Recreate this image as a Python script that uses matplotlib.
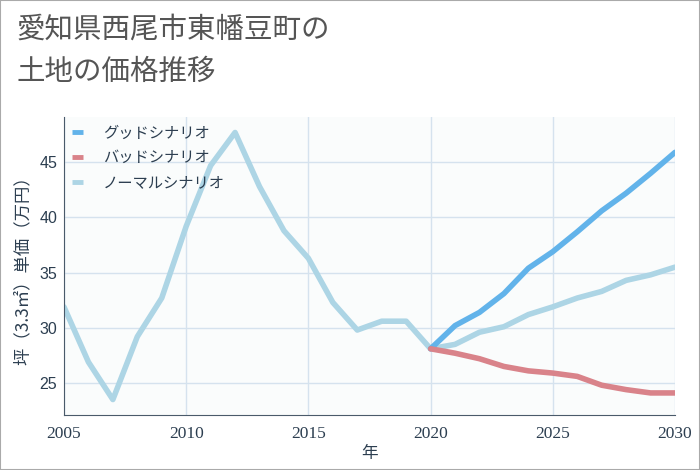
import matplotlib.pyplot as plt

plt.rcParams['font.family'] = ['Noto Sans CJK JP', 'DejaVu Sans']

years_past = list(range(2005, 2021))
normal_past = [31.9, 26.9, 23.5, 29.2, 32.7, 39.2, 44.7, 47.7, 42.8, 38.8,
               36.3, 32.3, 29.8, 30.6, 30.6, 28.1]

years_future = list(range(2020, 2031))
good = [28.1, 30.2, 31.4, 33.1, 35.4, 36.9, 38.7, 40.6, 42.2, 44.0, 45.9]
bad = [28.1, 27.7, 27.2, 26.5, 26.1, 25.9, 25.6, 24.8, 24.4, 24.1, 24.1]
normal_future = [28.1, 28.5, 29.6, 30.1, 31.2, 31.9, 32.7, 33.3, 34.3, 34.8, 35.5]

labels = ['グッドシナリオ', 'バッドシナリオ', 'ノーマルシナリオ']
colors = ['#62b3ea', '#d9838a', '#add5e5']

fig = plt.figure(figsize=(7, 4.7), dpi=100)
fig.patch.set_facecolor('white')
ax = fig.add_axes([0.0914, 0.117, 0.8729, 0.634])
ax.set_facecolor('#fafcfc')

ax.plot(years_future, good, color=colors[0], lw=4, label=labels[0], solid_capstyle='round', zorder=3)
ax.plot(years_future, bad, color=colors[1], lw=4, label=labels[1], solid_capstyle='round', zorder=3)
ax.plot(years_past + years_future[1:], normal_past + normal_future[1:],
        color=colors[2], lw=4, label=labels[2], solid_capstyle='round', zorder=2)

ax.set_xlim(2005, 2030)
ax.set_ylim(22.1, 49.1)
ax.set_xticks([2005, 2010, 2015, 2020, 2025, 2030])
ax.set_yticks([25, 30, 35, 40, 45])
ax.grid(True, color='#d5e2ee', lw=1)
ax.set_axisbelow(True)

for s in ['top', 'right']:
    ax.spines[s].set_visible(False)
for s in ['left', 'bottom']:
    ax.spines[s].set_color('#4a5a6a')
ax.tick_params(length=0, colors='#2c3e50')
ax.tick_params(axis='x', pad=8)
ax.tick_params(axis='y', pad=5)
for t in ax.get_xticklabels():
    t.set_family('Liberation Serif')
    t.set_fontsize(12.5)
for t in ax.get_yticklabels():
    t.set_family('Liberation Sans')
    t.set_fontsize(11.5)

ax.set_xlabel('年', fontsize=12, color='#2c3e50', labelpad=2)
ax.set_ylabel('坪（3.3㎡）単価（万円）', fontsize=12.5, color='#2c3e50')
ax.yaxis.set_label_coords(-0.052, 0.5)

leg = ax.legend(loc='upper left', frameon=False, fontsize=11, handlelength=0.75,
                handletextpad=1.3, borderaxespad=0.1, labelspacing=0.5,
                bbox_to_anchor=(0.0, 1.0))
for t in leg.get_texts():
    t.set_color('#2c3e50')
for h in leg.get_lines():
    h.set_solid_capstyle('butt')
    h.set_linewidth(3.5)

fig.text(0.024, 0.936, '愛知県西尾市東幡豆町の', fontsize=20.5, color='#555555', va='center')
fig.text(0.024, 0.847, '土地の価格推移', fontsize=20.5, color='#555555', va='center')

fig.add_artist(plt.Rectangle((0, 0), 1, 1, transform=fig.transFigure, fill=False,
                             edgecolor='#aaaaaa', lw=1.5))

fig.savefig('out.png', dpi=100)
